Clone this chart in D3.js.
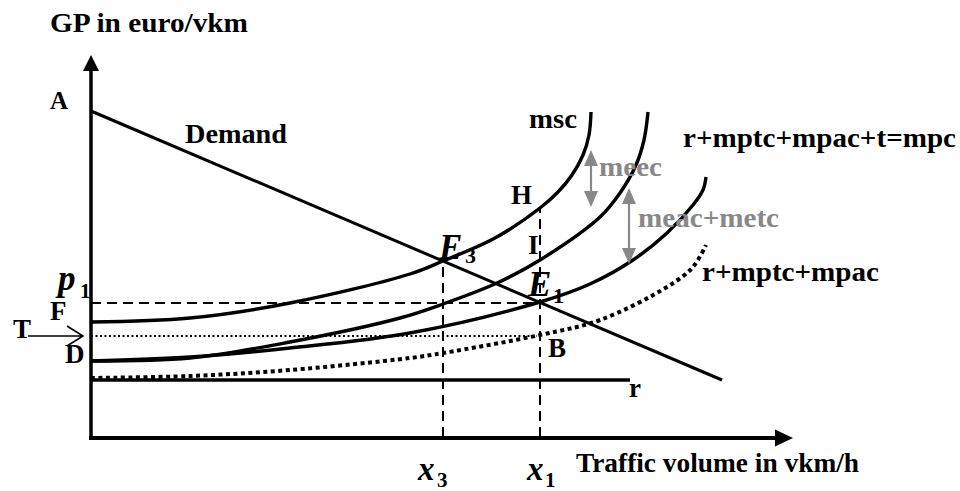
<!DOCTYPE html>
<html>
<head>
<meta charset="utf-8">
<script src="https://cdn.jsdelivr.net/npm/d3@7"></script>
<style>
  html, body { margin: 0; padding: 0; background: #fff; }
  svg { display: block; }
  text { font-family: "Liberation Serif", "Times New Roman", serif; font-weight: bold; }
</style>
</head>
<body>
<div id="chart"></div>
<script>
// curve points: [volume, price] in abstract units
const demand = [[0, 326], [631, 57]];
const rLine = [[0, 57], [539, 57]];
const mscCurve = [[0, 115], [99, 119], [199, 134], [319, 163], [352, 176], [404, 199], [449, 229],
                  [467, 245], [481, 262], [492, 282], [498, 302], [500, 325]];
const upperCurve = [[0, 76], [99, 79], [199, 95], [309, 119], [352, 133], [406, 154], [449, 177],
                    [509, 220], [529, 244], [545, 272], [553, 297], [557, 325]];
const mpcCurve = [[0, 76], [99, 80], [199, 89], [319, 104], [449, 135], [499, 153], [542, 177],
                  [576, 204], [602, 232], [612, 247], [615, 260]];
const privCurve = [[0, 59], [99, 61], [199, 67], [319, 79], [352, 84], [449, 102], [509, 117],
                   [576, 150], [602, 170], [615, 192]];

const x3 = 352, x1 = 449;
const p1 = 134, tLevel = 101;
const e3Price = 176, hPrice = 229, bVolume = 446;
const meecArrow = [500, 230, 287];      // volume, low, high
const meacArrow = [538, 173, 249];

const width = 960, height = 491;
const svg = d3.select('#chart').append('svg')
    .attr('width', width).attr('height', height);

// scales
const x = d3.scaleLinear().domain([0, 700]).range([91, 791]);
const y = d3.scaleLinear().domain([0, 380]).range([437, 57]);

const line = d3.line().x(d => x(d[0])).y(d => y(d[1]));
const smooth = d3.line().x(d => x(d[0])).y(d => y(d[1])).curve(d3.curveCatmullRom.alpha(0.5));

// dashed guides
const dashed = [
    [[0, p1], [x1, p1]],
    [[x3, 0], [x3, e3Price]],
    [[x1, 0], [x1, hPrice]]
];
svg.selectAll('.guida')
    .data(dashed)
    .join('path')
    .attr('class', 'guida')
    .attr('d', line)
    .attr('fill', 'none')
    .attr('stroke', '#000')
    .attr('stroke-width', 2)
    .attr('stroke-dasharray', '10,6');

// thin dotted toll level
svg.append('path')
    .attr('d', line([[0, tLevel], [bVolume, tLevel]]))
    .attr('fill', 'none').attr('stroke', '#000')
    .attr('stroke-width', 2).attr('stroke-dasharray', '2,2.5');

// r line and demand
svg.append('path').attr('d', line(rLine))
    .attr('stroke', '#000').attr('stroke-width', 3.3);
svg.append('path').attr('d', line(demand))
    .attr('stroke', '#000').attr('stroke-width', 3);

// cost curves
[mscCurve, upperCurve, mpcCurve].forEach(c => {
    svg.append('path').attr('d', smooth(c))
        .attr('fill', 'none').attr('stroke', '#000').attr('stroke-width', 3.4);
});
svg.append('path').attr('d', smooth(privCurve))
    .attr('fill', 'none').attr('stroke', '#000')
    .attr('stroke-width', 4).attr('stroke-dasharray', '4,3.5');

// axes with arrow heads
svg.append('path').attr('d', line([[0, 0], [0, 370]]))
    .attr('stroke', '#000').attr('stroke-width', 3.5);
svg.append('path').attr('d', line([[-2, -1], [690, -1]]))
    .attr('stroke', '#000').attr('stroke-width', 4);
svg.append('path')
    .attr('d', `M${x(0)},${y(382)} L${x(0) - 8},${y(366)} L${x(0) + 8},${y(366)} Z`)
    .attr('fill', '#000');
svg.append('path')
    .attr('d', `M${x(702)},${y(-1)} L${x(684)},${y(-1) - 8.5} L${x(684)},${y(-1) + 8.5} Z`)
    .attr('fill', '#000');

// gray double arrows
const grigio = '#888';
[meecArrow, meacArrow].forEach(a => {
    const ax = x(a[0]), yt = y(a[2]), yb = y(a[1]);
    svg.append('line').attr('x1', ax).attr('x2', ax)
        .attr('y1', yt + 12).attr('y2', yb - 12)
        .attr('stroke', grigio).attr('stroke-width', 2.2);
    svg.append('path')
        .attr('d', `M${ax},${yt} L${ax - 7},${yt + 16} L${ax + 7},${yt + 16} Z`)
        .attr('fill', grigio);
    svg.append('path')
        .attr('d', `M${ax},${yb} L${ax - 7},${yb - 16} L${ax + 7},${yb - 16} Z`)
        .attr('fill', grigio);
});

// T arrow
svg.append('path')
    .attr('d', `M${x(-63)},${y(tLevel)} L${x(-8)},${y(tLevel)} M${x(-24)},${y(tLevel) - 10} L${x(-8)},${y(tLevel)} L${x(-24)},${y(tLevel) + 10}`)
    .attr('fill', 'none').attr('stroke', '#000').attr('stroke-width', 1.6);

// labels: [text, volume, price, size, width, colour, italic]
const labels = [
    ['GP in euro/vkm', -41, 405, 27, 198],
    ['A', -41, 328, 25],
    ['Demand', 94, 294, 27, 102],
    ['msc', 438, 309, 27, 48],
    ['r+mptc+mpac+t=mpc', 592, 290, 27, 273],
    ['meec', 508, 261, 27, 63, grigio],
    ['H', 420, 233, 27],
    ['meac+metc', 547, 210, 27, 141, grigio],
    ['I', 437, 183, 27],
    ['r+mptc+mpac', 611, 156, 27, 177],
    ['F', -41, 117, 27],
    ['T', -78, 99, 27],
    ['D', -26, 74, 27],
    ['B', 457, 80, 27],
    ['r', 538, 40, 27],
    ['Traffic volume in vkm/h', 485, -35, 27, 283],
    ['E', 348, 178, 35, null, null, true],
    ['3', 374, 174, 22],
    ['E', 437, 141, 35, null, null, true],
    ['1', 462, 134, 22],
    ['p', -33, 147, 35, null, null, true],
    ['1', -11, 139, 21],
    ['x', 327, -43, 33, null, null, true],
    ['3', 346, -50, 21],
    ['x', 436, -43, 33, null, null, true],
    ['1', 454, -50, 21]
];
labels.forEach(l => {
    const t = svg.append('text')
        .attr('x', x(l[1])).attr('y', y(l[2]))
        .style('font-size', l[3] + 'px')
        .style('fill', l[5] || '#000')
        .text(l[0]);
    if (l[4]) t.attr('textLength', l[4]).attr('lengthAdjust', 'spacingAndGlyphs');
    if (l[6]) t.style('font-style', 'italic');
});
</script>
</body>
</html>
